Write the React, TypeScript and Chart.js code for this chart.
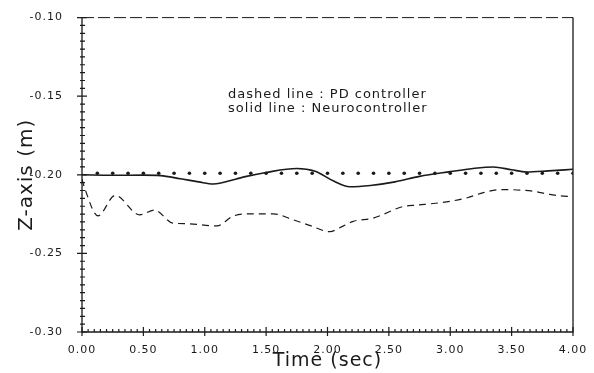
import React, { useEffect, useRef } from "react";
import { Chart, registerables } from "chart.js";

Chart.register(...registerables);

// ---- data ----
const timeSolid = [0, 0.25, 0.5, 0.64, 0.8, 0.95, 1.07, 1.25, 1.34, 1.5, 1.75, 1.9, 2.05, 2.18, 2.35, 2.55, 2.75, 3.0, 3.2, 3.35, 3.5, 3.62, 3.8, 4.0];
const zSolid = [-0.2, -0.2003, -0.2002, -0.2005, -0.2025, -0.2045, -0.2059, -0.2028, -0.201, -0.1985, -0.196, -0.1978, -0.204, -0.2076, -0.2068, -0.2045, -0.201, -0.198, -0.1958, -0.195, -0.1968, -0.1982, -0.1975, -0.1965];

const timeDashed = [0, 0.024, 0.13, 0.27, 0.47, 0.59, 0.74, 0.855, 1.1, 1.23, 1.34, 1.56, 1.72, 1.86, 2.02, 2.1, 2.21, 2.37, 2.62, 2.73, 2.97, 3.14, 3.27, 3.41, 3.67, 3.81, 3.95, 4.0];
const zDashed = [-0.2028, -0.209, -0.2261, -0.2131, -0.2255, -0.2224, -0.2307, -0.2311, -0.2325, -0.2263, -0.2249, -0.2249, -0.2286, -0.2323, -0.2362, -0.2337, -0.2296, -0.2276, -0.2201, -0.2193, -0.2172, -0.2146, -0.2113, -0.2094, -0.2104, -0.2125, -0.2137, -0.2139];

const timeDotted = [0.125, 0.25, 0.375, 0.5, 0.625, 0.75, 0.875, 1.0, 1.125, 1.25, 1.375, 1.5, 1.625, 1.75, 1.875, 2.0, 2.125, 2.25, 2.375, 2.5, 2.625, 2.75, 2.875, 3.0, 3.125, 3.25, 3.375, 3.5, 3.625, 3.75, 3.875, 4.0];
const zDotted = [-0.199, -0.199, -0.199, -0.199, -0.199, -0.199, -0.199, -0.199, -0.199, -0.199, -0.199, -0.199, -0.199, -0.199, -0.199, -0.199, -0.199, -0.199, -0.199, -0.199, -0.199, -0.199, -0.199, -0.199, -0.199, -0.199, -0.199, -0.199, -0.199, -0.199, -0.199, -0.199];

const xTitle = "Time (sec)";
const yTitle = "Z-axis (m)";
const noteLines = ["dashed line : PD controller", "solid line : Neurocontroller"];
const noteT = 1.19;
const noteZ = [-0.149, -0.158];

const X_MIN = 0, X_MAX = 4, X_STEP = 0.5;
const Y_MIN = -0.3, Y_MAX = -0.1, Y_STEP = 0.05;

const FONT = "'DejaVu Sans', sans-serif";
const INK = "#1a1a1a";

const zip = (xs: number[], ys: number[]) => xs.map((x, i) => ({ x, y: ys[i] }));

const framePlugin = {
  id: "frame",
  beforeDraw(chart: any) {
    chart.ctx.letterSpacing = "1px";
  },
  afterDraw(chart: any) {
    const { ctx, chartArea: a, scales } = chart;
    const xs = scales.x, ys = scales.y;
    ctx.save();
    ctx.strokeStyle = INK;
    ctx.lineWidth = 1.3;
    ctx.beginPath();
    ctx.moveTo(a.left, a.top);
    ctx.lineTo(a.left, a.bottom);
    ctx.lineTo(a.right, a.bottom);
    ctx.lineTo(a.right, a.top);
    ctx.stroke();
    ctx.lineWidth = 1;
    ctx.setLineDash([12, 4]);
    ctx.beginPath();
    ctx.moveTo(a.left, a.top);
    ctx.lineTo(a.right, a.top);
    ctx.stroke();
    ctx.setLineDash([]);
    ctx.lineWidth = 1.2;
    ctx.beginPath();
    const ny = Math.round((Y_MAX - Y_MIN) / 0.005);
    for (let i = 0; i <= ny; i++) {
      const py = ys.getPixelForValue(Y_MIN + i * 0.005);
      const major = i % 10 === 0;
      ctx.moveTo(a.left - (major ? 5 : 2), py);
      ctx.lineTo(a.left + (major ? 5 : 3), py);
    }
    const nx = Math.round((X_MAX - X_MIN) / 0.05);
    for (let i = 0; i <= nx; i++) {
      const px = xs.getPixelForValue(X_MIN + i * 0.05);
      const major = i % 10 === 0;
      ctx.moveTo(px, a.bottom + (major ? 4 : 0));
      ctx.lineTo(px, a.bottom - (major ? 5 : 3));
    }
    ctx.stroke();
    ctx.fillStyle = INK;
    ctx.font = `13px ${FONT}`;
    ctx.textAlign = "left";
    ctx.textBaseline = "middle";
    noteLines.forEach((t, i) => {
      ctx.fillText(t, xs.getPixelForValue(noteT), ys.getPixelForValue(noteZ[i]));
    });
    ctx.restore();
  },
};

export default function App() {
  const ref = useRef<HTMLCanvasElement>(null);
  useEffect(() => {
    if (!ref.current) return;
    const chart = new Chart(ref.current, {
      type: "scatter",
      data: {
        datasets: [
          {
            data: zip(timeDashed, zDashed),
            showLine: true,
            borderColor: INK,
            borderWidth: 1.2,
            borderDash: [7, 5],
            pointRadius: 0,
            cubicInterpolationMode: "monotone",
          },
          {
            data: zip(timeSolid, zSolid),
            showLine: true,
            borderColor: INK,
            borderWidth: 1.6,
            pointRadius: 0,
            cubicInterpolationMode: "monotone",
          },
          {
            data: zip(timeDotted, zDotted),
            showLine: false,
            pointRadius: 1.8,
            pointBorderWidth: 0,
            pointBackgroundColor: INK,
          },
        ],
      } as any,
      options: {
        animation: false,
        responsive: false,
        maintainAspectRatio: false,
        layout: { padding: { top: 9, right: 21, left: 0, bottom: 0 } },
        plugins: { legend: { display: false }, tooltip: { enabled: false } },
        scales: {
          x: {
            type: "linear",
            min: X_MIN,
            max: X_MAX,
            afterFit: (s: any) => { s.height = 41; },
            grid: { display: false },
            border: { display: false },
            ticks: {
              stepSize: X_STEP,
              autoSkip: false,
              maxRotation: 0,
              padding: 4,
              color: INK,
              font: { family: FONT, size: 11 },
              callback: (v: any) => Number(v).toFixed(2),
            },
            title: {
              display: true,
              text: xTitle,
              color: INK,
              font: { family: FONT, size: 19, lineHeight: 1.2 },
              padding: { top: 0, bottom: 1 },
            },
          },
          y: {
            type: "linear",
            min: Y_MIN,
            max: Y_MAX,
            afterFit: (s: any) => { s.width = 82; },
            grid: { display: false },
            border: { display: false },
            ticks: {
              stepSize: Y_STEP,
              padding: 11,
              color: INK,
              font: { family: FONT, size: 11 },
              callback: (v: any) => Number(v).toFixed(2),
            },
            title: {
              display: true,
              text: yTitle,
              color: INK,
              font: { family: FONT, size: 20, lineHeight: 1.2 },
              padding: { top: 15, bottom: 0 },
            },
          },
        },
      } as any,
      plugins: [framePlugin],
    });
    return () => chart.destroy();
  }, []);
  return (
    <div style={{ position: "absolute", left: 0, top: 0, width: 594, height: 373, background: "#fff" }}>
      <canvas ref={ref} width={594} height={373} />
    </div>
  );
}
